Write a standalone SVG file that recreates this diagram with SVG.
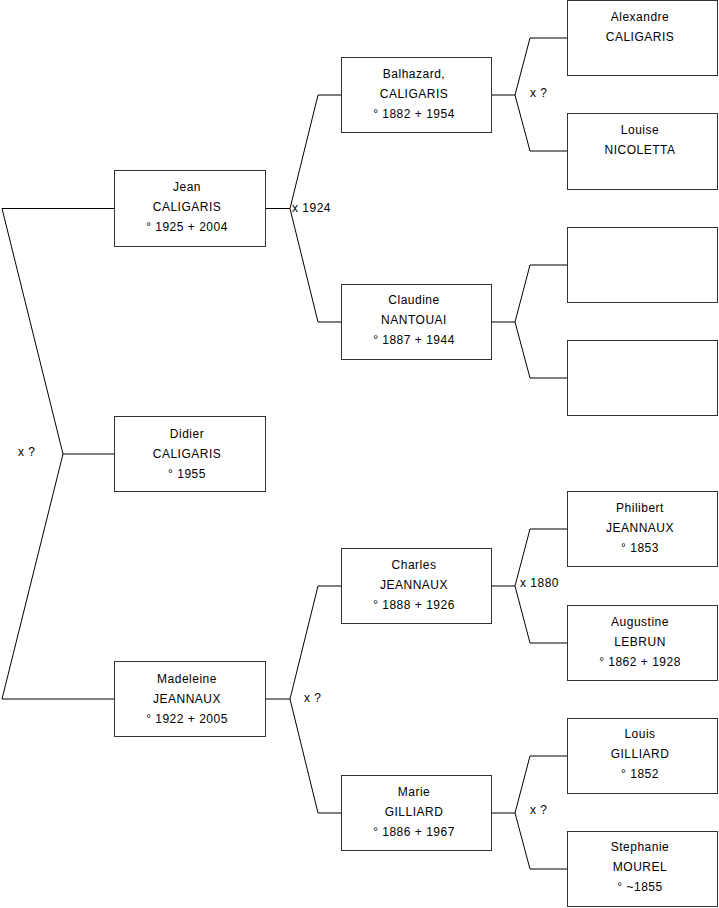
<svg xmlns="http://www.w3.org/2000/svg" width="719" height="908" viewBox="0 0 719 908">
<style>
.box{fill:#fff;stroke:#333;stroke-width:1}
.ln{fill:none;stroke:#000;stroke-width:1}
text{font-family:"Liberation Sans",Arial,sans-serif;font-size:12px;letter-spacing:0.5px;fill:#000}
.c{text-anchor:middle}
</style>
<rect width="719" height="908" fill="#fff"/>
<g id="connectors">
<path class="ln" d="M2,208.5H114.5M2,208.5L63,454L2,699M63,454H114.5M2,699H114.5"/>
<path class="ln" d="M265.5,208.5H290M290,208.5L318,95H341.5M290,208.5L318,322H341.5"/>
<path class="ln" d="M265.5,699H290M290,699L318,586H341.5M290,699L318,813H341.5"/>
<path class="ln" d="M491.5,95H515M515,95L530,38H567.5M515,95L530,151H567.5"/>
<path class="ln" d="M491.5,322H515M515,322L530,265H567.5M515,322L530,378H567.5"/>
<path class="ln" d="M491.5,586H515M515,586L530,529H567.5M515,586L530,643H567.5"/>
<path class="ln" d="M491.5,813H515M515,813L530,756H567.5M515,813L530,869H567.5"/>
<text x="18" y="456">x ?</text>
<text x="292" y="212">x 1924</text>
<text x="304" y="702">x ?</text>
<text x="530" y="97">x ?</text>
<text x="520" y="587">x 1880</text>
<text x="530" y="814">x ?</text>
</g>
<g id="jean"><rect class="box" x="114.5" y="170.5" width="151" height="76"/><text class="c" x="187" y="191">Jean</text><text class="c" x="187" y="211">CALIGARIS</text><text class="c" x="187" y="231">° 1925 + 2004</text></g>
<g id="didier"><rect class="box" x="114.5" y="416.5" width="151" height="75"/><text class="c" x="187" y="438">Didier</text><text class="c" x="187" y="458">CALIGARIS</text><text class="c" x="187" y="478">° 1955</text></g>
<g id="madeleine"><rect class="box" x="114.5" y="661.5" width="151" height="75"/><text class="c" x="187" y="683">Madeleine</text><text class="c" x="187" y="703">JEANNAUX</text><text class="c" x="187" y="723">° 1922 + 2005</text></g>
<g id="balhazard"><rect class="box" x="341.5" y="57.5" width="150" height="75"/><text class="c" x="414" y="78">Balhazard,</text><text class="c" x="414" y="98">CALIGARIS</text><text class="c" x="414" y="118">° 1882 + 1954</text></g>
<g id="claudine"><rect class="box" x="341.5" y="284.5" width="150" height="75"/><text class="c" x="414" y="304">Claudine</text><text class="c" x="414" y="324">NANTOUAI</text><text class="c" x="414" y="344">° 1887 + 1944</text></g>
<g id="charles"><rect class="box" x="341.5" y="548.5" width="150" height="75"/><text class="c" x="414" y="569">Charles</text><text class="c" x="414" y="589">JEANNAUX</text><text class="c" x="414" y="609">° 1888 + 1926</text></g>
<g id="marie"><rect class="box" x="341.5" y="775.5" width="150" height="75"/><text class="c" x="414" y="796">Marie</text><text class="c" x="414" y="816">GILLIARD</text><text class="c" x="414" y="836">° 1886 + 1967</text></g>
<g id="alexandre"><rect class="box" x="567.5" y="0.5" width="150" height="75"/><text class="c" x="640" y="21">Alexandre</text><text class="c" x="640" y="41">CALIGARIS</text></g>
<g id="louise"><rect class="box" x="567.5" y="113.5" width="150" height="76"/><text class="c" x="640" y="134">Louise</text><text class="c" x="640" y="154">NICOLETTA</text></g>
<g id="empty1"><rect class="box" x="567.5" y="227.5" width="150" height="75"/></g>
<g id="empty2"><rect class="box" x="567.5" y="340.5" width="150" height="75"/></g>
<g id="philibert"><rect class="box" x="567.5" y="491.5" width="150" height="75"/><text class="c" x="640" y="532" dy="-20">Philibert</text><text class="c" x="640" y="532">JEANNAUX</text><text class="c" x="640" y="552">° 1853</text></g>
<g id="augustine"><rect class="box" x="567.5" y="605.5" width="150" height="75"/><text class="c" x="640" y="626">Augustine</text><text class="c" x="640" y="646">LEBRUN</text><text class="c" x="640" y="666">° 1862 + 1928</text></g>
<g id="louis"><rect class="box" x="567.5" y="718.5" width="150" height="75"/><text class="c" x="640" y="738">Louis</text><text class="c" x="640" y="758">GILLIARD</text><text class="c" x="640" y="778">° 1852</text></g>
<g id="stephanie"><rect class="box" x="567.5" y="831.5" width="150" height="75"/><text class="c" x="640" y="851">Stephanie</text><text class="c" x="640" y="871">MOUREL</text><text class="c" x="640" y="891">° ~1855</text></g>
</svg>
